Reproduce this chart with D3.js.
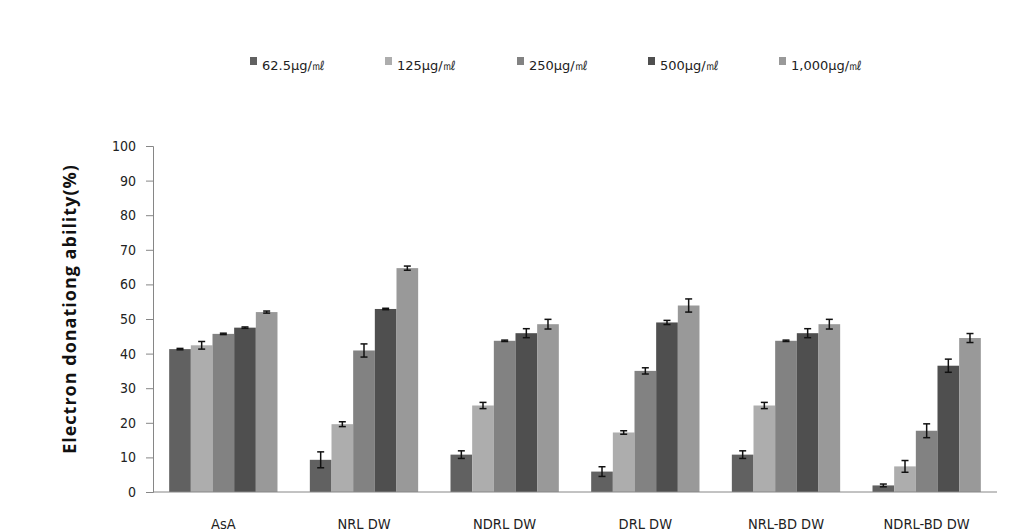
<!DOCTYPE html>
<html>
<head>
<meta charset="utf-8">
<script src="https://cdn.jsdelivr.net/npm/d3@7"></script>
<style>
  html, body { margin: 0; padding: 0; background: #fff; }
  svg { display: block; }
  .tick text { font-family: "DejaVu Sans Condensed", "DejaVu Sans", sans-serif; }
</style>
</head>
<body>
<svg id="chart" width="1023" height="531"></svg>
<script>
// sample groups and concentrations
const groups = ['AsA', 'NRL DW', 'NDRL DW', 'DRL DW', 'NRL-BD DW', 'NDRL-BD DW'];
const doses = ['62.5μg/㎖', '125μg/㎖', '250μg/㎖', '500μg/㎖', '1,000μg/㎖'];

// mean values per dose, one entry per group
const dose62 = [41.3, 9.3, 10.8, 5.9, 10.8, 1.9];
const dose125 = [42.4, 19.6, 25.0, 17.2, 25.0, 7.4];
const dose250 = [45.7, 40.9, 43.7, 35.0, 43.7, 17.7];
const dose500 = [47.5, 52.9, 45.9, 49.0, 45.9, 36.5];
const dose1000 = [52.0, 64.7, 48.5, 53.9, 48.5, 44.5];

// standard deviations
const err62 = [0.2, 2.3, 1.1, 1.4, 1.1, 0.4];
const err125 = [1.1, 0.7, 0.9, 0.5, 0.9, 1.7];
const err250 = [0.2, 1.9, 0.2, 0.9, 0.2, 2.0];
const err500 = [0.2, 0.2, 1.3, 0.6, 1.3, 1.9];
const err1000 = [0.3, 0.6, 1.4, 1.9, 1.4, 1.3];

const yTicks = [0, 10, 20, 30, 40, 50, 60, 70, 80, 90, 100];
const colors = ['#616161', '#adadad', '#828282', '#4f4f4f', '#999999'];

const seriesValues = [dose62, dose125, dose250, dose500, dose1000];
const seriesErrors = [err62, err125, err250, err500, err1000];

const svg = d3.select('#chart');
const plotLeft = 153, plotRight = 997, plotTop = 146, plotBottom = 492;

const x0 = d3.scaleBand().domain(groups).range([plotLeft, plotRight]).paddingInner(0.23).paddingOuter(0.115);
const x1 = d3.scaleBand().domain(d3.range(doses.length)).range([0, x0.bandwidth()]);
const y = d3.scaleLinear().domain([0, 100]).range([plotBottom, plotTop]);

// y axis
const yAxis = svg.append('g')
    .attr('transform', `translate(${plotLeft},0)`)
    .call(d3.axisLeft(y).tickValues(yTicks).tickSize(7).tickPadding(10));
yAxis.select('.domain').attr('stroke', '#868686');
yAxis.selectAll('.tick line').attr('stroke', '#868686');
yAxis.selectAll('.tick text').attr('font-size', 14).attr('fill', '#222');

// bars
const rows = [];
seriesValues.forEach((vals, s) => {
    vals.forEach((v, g) => rows.push({ s, g, v, e: seriesErrors[s][g] }));
});

svg.append('g').selectAll('rect')
    .data(rows)
    .join('rect')
    .attr('x', d => x0(groups[d.g]) + x1(d.s))
    .attr('y', d => y(d.v))
    .attr('width', x1.bandwidth())
    .attr('height', d => y(0) - y(d.v))
    .attr('fill', d => colors[d.s]);

// error bars
const eb = svg.append('g').attr('stroke', '#111').attr('stroke-width', 1.5);
rows.forEach(d => {
    const cx = x0(groups[d.g]) + x1(d.s) + x1.bandwidth() / 2;
    const y1 = y(d.v + d.e), y2 = y(d.v - d.e);
    eb.append('line').attr('x1', cx).attr('x2', cx).attr('y1', y1).attr('y2', y2);
    eb.append('line').attr('x1', cx - 3.5).attr('x2', cx + 3.5).attr('y1', y1).attr('y2', y1);
    eb.append('line').attr('x1', cx - 3.5).attr('x2', cx + 3.5).attr('y1', y2).attr('y2', y2);
});

// x axis line
svg.append('line')
    .attr('x1', plotLeft).attr('x2', plotRight)
    .attr('y1', y(0)).attr('y2', y(0))
    .attr('stroke', '#868686');

// group labels
svg.append('g').selectAll('text')
    .data(groups)
    .join('text')
    .attr('x', d => x0(d) + x0.bandwidth() / 2)
    .attr('y', 529)
    .attr('text-anchor', 'middle')
    .attr('font-family', '"DejaVu Sans Condensed", "DejaVu Sans", sans-serif')
    .attr('font-size', 14.5)
    .attr('fill', '#222')
    .text(d => d);

// y axis title
svg.append('text')
    .attr('transform', 'translate(76,309) rotate(-90)')
    .attr('text-anchor', 'middle')
    .attr('font-family', '"Open Sans", sans-serif')
    .attr('font-weight', 'bold')
    .attr('font-size', 18)
    .attr('letter-spacing', 1)
    .attr('fill', '#111')
    .text('Electron donationg ability(%)');

// legend
const legendX = [250, 385, 517, 648, 779];
const legend = svg.append('g').selectAll('g')
    .data(doses)
    .join('g')
    .attr('transform', (d, i) => `translate(${legendX[i]},57)`);
legend.append('rect').attr('width', 7).attr('height', 8).attr('fill', (d, i) => colors[i]);
legend.append('text')
    .attr('x', 12).attr('y', 13)
    .attr('font-family', '"DejaVu Sans", sans-serif')
    .attr('font-size', 13)
    .attr('fill', '#222')
    .text(d => d);
</script>
</body>
</html>
